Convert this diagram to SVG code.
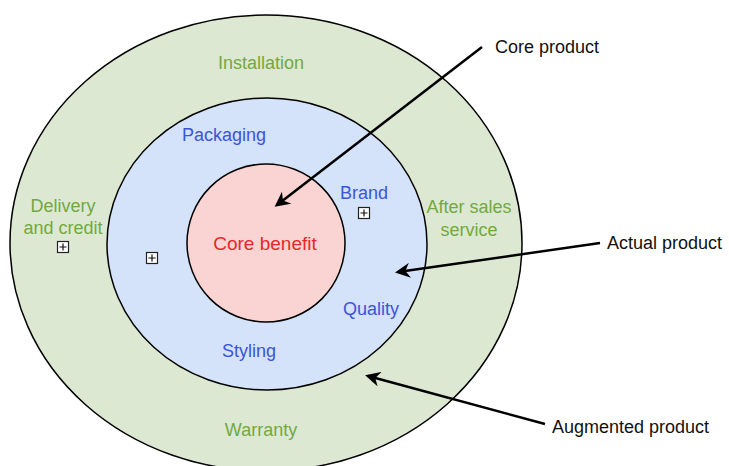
<svg xmlns="http://www.w3.org/2000/svg" width="729" height="466" viewBox="0 0 729 466">
  <style>
    .ring { stroke: #000; stroke-width: 1.5; }
    .lbl { font-family: "Liberation Sans", Arial, sans-serif; font-size: 18px; text-anchor: middle; dominant-baseline: central; }
    .g { fill: #72a93f; }
    .b { fill: #3a55d8; }
    .r { fill: #e8262a; font-size: 19px; }
    .call { font-family: "Liberation Sans", Arial, sans-serif; font-size: 18px; fill: #111; dominant-baseline: central; }
    .conn { stroke: #000; stroke-width: 2.5; fill: none; marker-end: url(#head); }
    .box { fill: #fff; stroke: #222; stroke-width: 1.2; }
    .plus { stroke: #111; stroke-width: 1.2; }
  </style>
  <defs>
    <marker id="head" viewBox="0 0 10 10" refX="8" refY="5" markerWidth="6" markerHeight="6" orient="auto" markerUnits="strokeWidth">
      <path d="M0,0 L10,5 L0,10 L3,5 Z" fill="#000"/>
    </marker>
    <g id="expand">
      <rect class="box" x="-5.5" y="-5.5" width="11" height="11"/>
      <path class="plus" d="M-3.5,0 H3.5 M0,-3.5 V3.5"/>
    </g>
  </defs>

  <g id="augmented">
    <ellipse class="ring" cx="266" cy="243" rx="256" ry="228" fill="#dde8d2"/>
    <text class="lbl g" x="261" y="63">Installation</text>
    <text class="lbl g" x="63" y="206">Delivery</text>
    <text class="lbl g" x="63" y="228">and credit</text>
    <text class="lbl g" x="469" y="207">After sales</text>
    <text class="lbl g" x="469" y="230">service</text>
    <text class="lbl g" x="261" y="430">Warranty</text>
    <use href="#expand" x="63" y="247"/>
  </g>

  <g id="actual">
    <ellipse class="ring" cx="267" cy="244" rx="160" ry="146" fill="#d4e2fa"/>
    <text class="lbl b" x="224" y="135">Packaging</text>
    <text class="lbl b" x="364" y="193">Brand</text>
    <text class="lbl b" x="371" y="309">Quality</text>
    <text class="lbl b" x="249" y="351">Styling</text>
    <use href="#expand" x="152" y="258"/>
    <use href="#expand" x="364" y="213"/>
  </g>

  <g id="core">
    <ellipse class="ring" cx="266" cy="243" rx="79" ry="79" fill="#fad4d2"/>
    <text class="lbl r" x="265" y="243">Core benefit</text>
  </g>

  <g id="connectors">
    <line class="conn" x1="482" y1="47" x2="277" y2="205"/>
    <line class="conn" x1="600" y1="243" x2="398" y2="272"/>
    <line class="conn" x1="545" y1="424" x2="368" y2="376"/>
  </g>

  <g id="labels">
    <text class="call" x="495" y="47">Core product</text>
    <text class="call" x="607" y="243">Actual product</text>
    <text class="call" x="552" y="427">Augmented product</text>
  </g>
</svg>
